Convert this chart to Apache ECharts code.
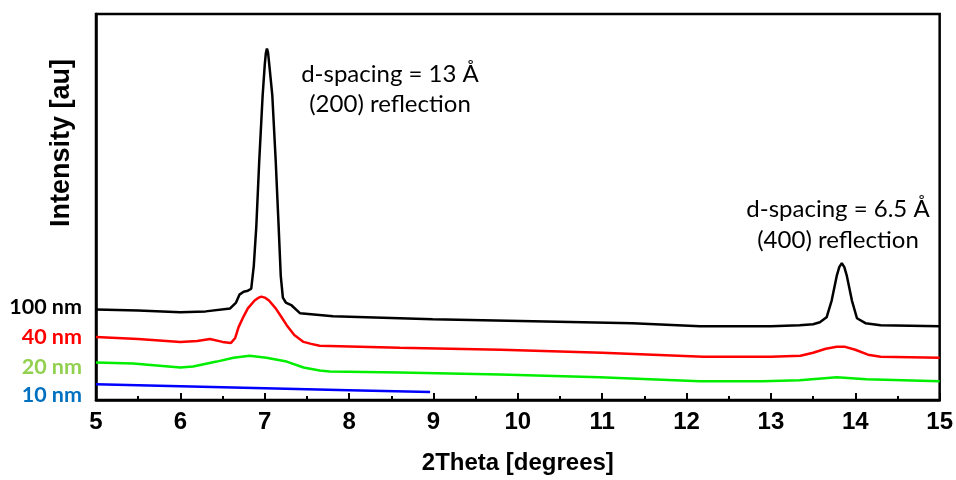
<!DOCTYPE html>
<html><head><meta charset="utf-8">
<script src="https://cdn.jsdelivr.net/npm/echarts@6/dist/echarts.min.js"></script>
<style>html,body{margin:0;padding:0;background:#fff}#c{width:956px;height:480px}</style>
</head><body><div id="c"></div>
<script>
// 2Theta (degrees) and intensity (arbitrary units)
const nm100 = [[5.0,92],[5.5,91],[6.0,89],[6.3,90],[6.59,93],[6.66,99],[6.7,107],[6.75,110],[6.8,111],[6.84,113],[6.87,136],[6.9,176],[6.935,243],[6.975,309],[7.0,340],[7.013,352],[7.026,357],[7.039,353],[7.05,344],[7.09,309],[7.13,243],[7.165,176],[7.19,126],[7.215,104],[7.25,99],[7.32,96],[7.42,88],[7.81,85],[8.99,82],[10.18,80],[11.36,78],[12.16,75],[13.0,75],[13.34,76],[13.5,77],[13.58,79],[13.66,84],[13.72,101],[13.78,126],[13.81,135],[13.84,139],[13.87,135],[13.9,126],[13.96,101],[14.02,83],[14.12,78],[14.3,76],[15.0,75]];
const nm40 = [[5.0,64],[5.5,62],[6.0,59],[6.2,60],[6.35,62],[6.5,59],[6.6,58],[6.65,63],[6.69,74],[6.75,85],[6.8,93],[6.88,101],[6.93,104],[6.96,105],[7.0,104],[7.05,101],[7.13,93],[7.2,84],[7.26,76],[7.35,66],[7.46,59],[7.55,57],[7.65,55],[8.6,53],[9.8,51],[11.0,48],[12.2,44],[13.0,44],[13.35,45],[13.5,48],[13.65,52],[13.78,54],[13.88,54],[14.0,51],[14.15,46],[14.3,44],[15.0,43]];
const nm20 = [[5.0,38],[5.44,37],[6.0,33],[6.15,34],[6.43,39],[6.63,43],[6.82,45],[7.02,43],[7.26,39],[7.46,33],[7.65,30],[7.77,29],[8.6,28],[9.79,26],[10.97,23],[12.16,19],[12.9,19],[13.34,20],[13.78,23],[14.13,21],[15.0,19]];
const nm10 = [[5.0,16],[6.0,14],[7.0,12],[8.0,10],[8.96,8]];
const seriesNames = ['100 nm','40 nm','20 nm','10 nm'];
const lineColors = ['#000000','#ff0000','#00ee00','#0000ff'];
const labelColors = ['#000000','#ff0000','#92d050','#0070c0'];
const xTicks = [5,6,7,8,9,10,11,12,13,14,15];

const chart = echarts.init(document.getElementById('c'));
const data = [nm100, nm40, nm20, nm10];
const labelY = [307, 337, 367, 395];
const ann = {fontFamily:'Lato',fontSize:24,fill:'#000',textAlign:'center',textVerticalAlign:'middle'};
chart.setOption({
  animation:false,
  grid:{left:96,right:16,top:14,bottom:74,show:true,borderColor:'#000',borderWidth:2.5,backgroundColor:'transparent'},
  xAxis:{type:'value',min:xTicks[0],max:xTicks[xTicks.length-1],interval:1,
    name:'2Theta [degrees]',nameLocation:'middle',nameGap:51,
    nameTextStyle:{fontFamily:'Liberation Sans',fontWeight:'bold',fontSize:24,color:'#000'},
    axisLine:{lineStyle:{color:'#000',width:2.5}},
    axisTick:{inside:true,length:7,lineStyle:{color:'#000',width:2}},
    minorTick:{show:true,splitNumber:2,length:4,lineStyle:{color:'#000',width:2}},
    splitLine:{show:false},
    axisLabel:{fontFamily:'Liberation Sans',fontWeight:'bold',fontSize:24,color:'#000',margin:10}},
  yAxis:{type:'value',min:0,max:392,show:true,
    axisLine:{show:true,lineStyle:{color:'#000',width:2.5}},axisTick:{show:false},axisLabel:{show:false},splitLine:{show:false}},
  series:data.map((d,i)=>({type:'line',name:seriesNames[i],data:d,showSymbol:false,smooth:false,
    lineStyle:{color:lineColors[i],width:2.5},z:10-i})),
  graphic:[
    {type:'text',x:62,y:143,rotation:Math.PI/2,style:{text:'Intensity [au]',fontFamily:'Liberation Sans',fontWeight:'bold',fontSize:27,fill:'#000',textAlign:'center',textVerticalAlign:'middle'}},
    ...seriesNames.map((n,i)=>({type:'text',x:82,y:labelY[i],style:{text:n,fontFamily:'Lato',fontWeight:'bold',fontSize:21.5,fill:labelColors[i],textAlign:'right',textVerticalAlign:'middle'}})),
    {type:'text',x:390,y:74,style:Object.assign({text:'d-spacing = 13 Å'},ann)},
    {type:'text',x:390,y:104,style:Object.assign({text:'(200) reflection'},ann)},
    {type:'text',x:838,y:209,style:Object.assign({text:'d-spacing = 6.5 Å'},ann)},
    {type:'text',x:838,y:240,style:Object.assign({text:'(400) reflection'},ann)}
  ]
});
</script></body></html>
